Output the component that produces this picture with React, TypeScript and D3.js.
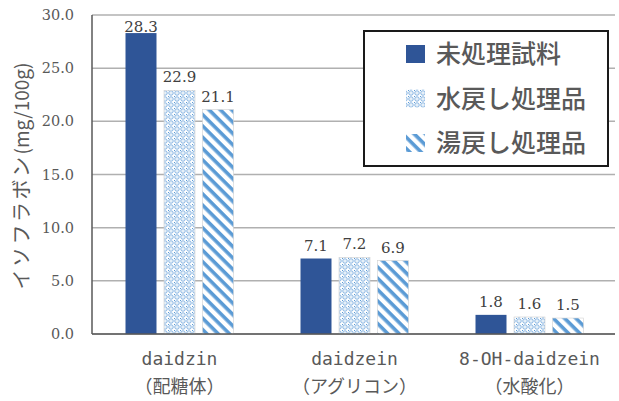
import React from "react";
import * as d3 from "d3";

const categories = ["daidzin", "daidzein", "8-OH-daidzein"];
const subLabels = ["（配糖体）", "（アグリコン）", "（水酸化）"];
const series = ["未処理試料", "水戻し処理品", "湯戻し処理品"];
const untreated = [28.3, 7.1, 1.8];
const waterSoaked = [22.9, 7.2, 1.6];
const hotWaterSoaked = [21.1, 6.9, 1.5];
const yTicks = [0, 5, 10, 15, 20, 25, 30];

const values = [untreated, waterSoaked, hotWaterSoaked];

const W = 619;
const H = 401;
const left = 92;
const right = 617;
const top = 15;
const bottom = 334;

const fills = ["#2F5597", "url(#lattice)", "url(#stripes)"];
const serif = "'DejaVu Serif', 'Liberation Serif', serif";
const jp = "'Noto Sans CJK JP', 'Noto Sans', sans-serif";
const mono = "'DejaVu Sans Mono', 'Liberation Mono', monospace";

export default function App() {
  const x = d3.scaleBand<string>().domain(categories).range([left, right]);
  const inner = d3
    .scaleBand<string>()
    .domain(series)
    .range([-57.75, 57.75])
    .paddingInner(0.195)
    .paddingOuter(0.0975);
  const y = d3.scaleLinear().domain([0, 30]).range([bottom, top]);
  const fmt = d3.format(".1f");

  return (
    <svg width={W} height={H} style={{ position: "absolute", left: 0, top: 0, background: "#fff" }}>
      <defs>
        <pattern id="lattice" width={6} height={6} patternUnits="userSpaceOnUse">
          <rect width={6} height={6} fill="#fff" />
          <circle cx={3} cy={3} r={2.2} fill="none" stroke="#7FB0E0" strokeWidth={1} />
          <rect x={0} y={0} width={1} height={1} fill="#5B9BD5" />
          <rect x={2.5} y={2.5} width={1} height={1} fill="#9DC3E6" />
        </pattern>
        <pattern
          id="stripes"
          width={8}
          height={8}
          patternUnits="userSpaceOnUse"
          patternTransform="rotate(45)"
        >
          <rect width={8} height={8} fill="#fff" />
          <rect x={0} y={0} width={8} height={3.6} fill="#5B9BD5" />
        </pattern>
      </defs>

      {/* gridlines */}
      {yTicks.map((t) => (
        <line
          key={t}
          x1={left}
          x2={right - 2}
          y1={y(t)}
          y2={y(t)}
          stroke="#B0B0B0"
          strokeWidth={1.5}
        />
      ))}

      {/* tick labels */}
      {yTicks.map((t) => (
        <text
          key={"l" + t}
          x={74}
          y={y(t) + 5}
          textAnchor="end"
          fontFamily={serif}
          fontSize={14.5}
          fill="#595959"
        >
          {fmt(t)}
        </text>
      ))}

      {/* bars with value labels (kept inside the plot area) */}
      {categories.map((c, ci) =>
        series.map((s, si) => {
          const v = values[si][ci];
          const bx = (x(c) as number) + x.bandwidth() / 2 + (inner(s) as number);
          const ly = Math.max(y(v) - 8, top + 17);
          return (
            <g key={c + s}>
              <rect
                x={bx}
                y={y(v)}
                width={inner.bandwidth()}
                height={bottom - y(v)}
                fill={fills[si]}
                stroke={si === 0 ? "none" : "#D0D0D0"}
                strokeWidth={0.6}
              />
              <text
                x={bx + inner.bandwidth() / 2}
                y={ly}
                textAnchor="middle"
                fontFamily={serif}
                fontSize={15}
                fill="#404040"
              >
                {fmt(v)}
              </text>
            </g>
          );
        })
      )}

      {/* axes */}
      <line x1={left} x2={left} y1={top} y2={bottom} stroke="#595959" strokeWidth={1.5} />
      <line x1={left} x2={right - 2} y1={bottom} y2={bottom} stroke="#595959" strokeWidth={1.5} />

      {/* category labels */}
      {categories.map((c, ci) => {
        const cx = (x(c) as number) + x.bandwidth() / 2;
        return (
          <g key={"c" + c}>
            <text
              x={cx}
              y={365}
              textAnchor="middle"
              fontFamily={mono}
              fontSize={18}
              fill="#595959"
            >
              {c}
            </text>
            <text
              x={cx}
              y={393}
              textAnchor="middle"
              fontFamily={jp}
              fontSize={18}
              fill="#595959"
            >
              {subLabels[ci]}
            </text>
          </g>
        );
      })}

      {/* y axis title */}
      <text
        transform="translate(29,176) rotate(-90)"
        textAnchor="middle"
        fontFamily={jp}
        fill="#595959"
      >
        <tspan fontSize={20} letterSpacing={2.5}>イソフラボン</tspan>
        <tspan fontSize={19}>(mg/100g)</tspan>
      </text>

      {/* legend */}
      <rect x={364} y={31} width={244} height={135} fill="#fff" stroke="#1a1a1a" strokeWidth={2} />
      {series.map((s, si) => {
        const cy = 54 + si * 44.5;
        return (
          <g key={"lg" + s}>
            <rect x={406} y={cy - 9} width={19} height={18} fill={fills[si]} />
            <text
              x={436}
              y={cy + 9}
              fontFamily={jp}
              fontSize={25}
              fontWeight={500}
              fill="#595959"
            >
              {s}
            </text>
          </g>
        );
      })}
    </svg>
  );
}
